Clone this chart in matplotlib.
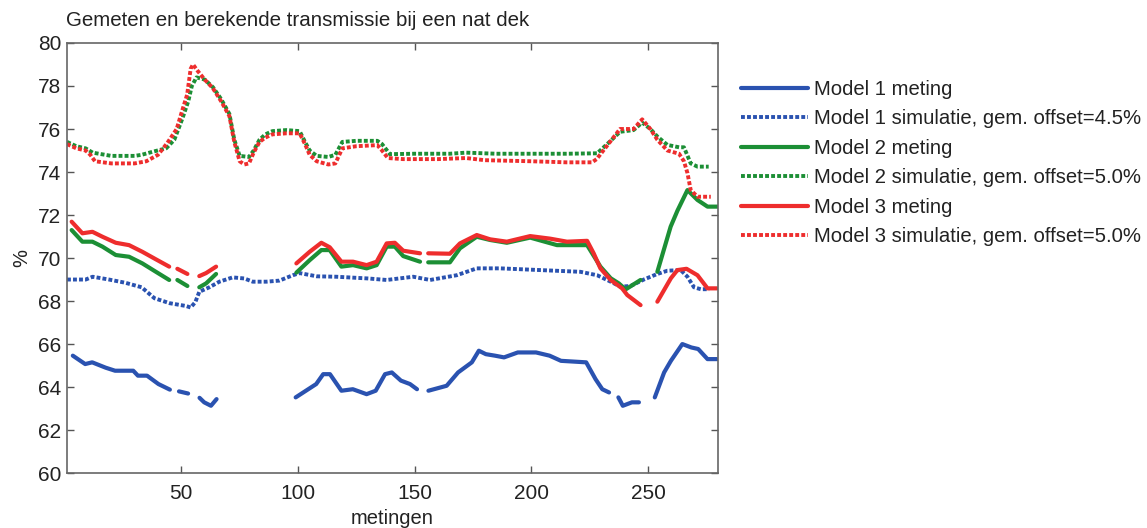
import numpy as np
import matplotlib.pyplot as plt

plt.rcParams['font.family'] = ['Liberation Sans', 'DejaVu Sans']

nan = np.nan

# Model 1
m1_x = [3.5, 8.8, 11.8, 17.6, 21.6, 29.4, 31.4, 35.3, 40.2, 45.1, nan, 49, 52.9, nan,
        57.8, 59.8, 62.7, 65.1, nan, 99, 107.8, 110.8, 113.7, 118.6, 123.5, 129.4, 133.3,
        137.3, 140.2, 144.1, 148, 151, nan, 155.9, 163.7, 168.6, 174.5, 177.5, 180.5,
        184.4, 188.3, 194.2, 202, 207.8, 212.7, 223.5, 227.5, 230.4, 233.3, nan, 237.3,
        239.2, 243.1, 246.1, nan, 252.9, 256.9, 259.8, 264.7, 268.6, 271.5, 275.5, 279.5]
m1_y = [65.46, 65.07, 65.15, 64.9, 64.76, 64.76, 64.53, 64.53, 64.14, 63.88, nan, 63.8,
        63.7, nan, 63.5, 63.29, 63.13, 63.44, nan, 63.52, 64.14, 64.6, 64.6, 63.83, 63.9,
        63.67, 63.83, 64.6, 64.68, 64.3, 64.14, 63.9, nan, 63.83, 64.06, 64.68, 65.15,
        65.69, 65.53, 65.46, 65.38, 65.61, 65.61, 65.46, 65.22, 65.15, 64.37, 63.9, 63.75,
        nan, 63.52, 63.13, 63.29, 63.29, nan, 63.52, 64.68, 65.22, 66.0, 65.84, 65.77,
        65.3, 65.3]
s1_x = [1, 9, 12, 19, 26, 33, 36, 38.5, 45, 52, 54, 56, 57.7, 62, 66.3, 72, 77, 80.6,
        86.4, 92, 97.8, 100.7, 108, 116.5, 130, 138, 149.4, 156.6, 168, 176.6, 186.6,
        203.8, 221, 228.2, 234, 238.2, 242.5, 248.2, 254, 258.3, 264, 266.9, 269.7,
        272.6, 276.2]
s1_y = [69.0, 69.0, 69.13, 69.0, 68.85, 68.64, 68.36, 68.13, 67.9, 67.77, 67.7, 67.95,
        68.43, 68.64, 68.9, 69.1, 69.05, 68.9, 68.9, 68.95, 69.2, 69.3, 69.15, 69.13,
        69.05, 68.98, 69.13, 68.98, 69.2, 69.52, 69.52, 69.44, 69.36, 69.2, 68.9, 68.67,
        68.7, 69.0, 69.26, 69.41, 69.44, 69.13, 68.64, 68.55, 68.55]

# Model 2
m2_x = [3, 7.6, 11.9, 16.2, 21.9, 27.6, 33.3, 39.1, 44.8, nan, 48.3, 52.6, nan, 57.7,
        60.6, 64.9, nan, 99.3, 105, 110, 113.6, 118.6, 123.6, 129.4, 133.7, 138, 141.5,
        145.1, 152.3, nan, 155.8, 165.1, 169.4, 176.6, 182.3, 189.5, 199.5, 211, 223.9,
        229.6, 234, 237.5, 240.4, 246.8, nan, 254, 259.7, 262.6, 266.9, 271.2, 275.5,
        279.8]
m2_y = [71.3, 70.76, 70.76, 70.53, 70.14, 70.06, 69.75, 69.36, 68.98, nan, 68.98, 68.7,
        nan, 68.64, 68.82, 69.26, nan, 69.32, 69.9, 70.37, 70.37, 69.6, 69.67, 69.52,
        69.67, 70.53, 70.53, 70.09, 69.83, nan, 69.8, 69.8, 70.45, 70.99, 70.84, 70.71,
        70.95, 70.6, 70.6, 69.6, 69.06, 68.82, 68.54, 68.98, nan, 69.36, 71.46, 72.2,
        73.16, 72.7, 72.39, 72.39]
s2_x = [1, 5, 9, 12, 20, 30, 33, 38, 43.5, 47, 50.5, 53, 54.5, 56.5, 60, 63.5, 67, 70.6,
        72.7, 75, 79, 81, 83.5, 86, 89, 95, 100.7, 103, 105, 108, 113, 116, 119, 125,
        134, 136, 139.4, 150, 165, 172, 185, 200, 215, 228.2, 233, 238, 243.8, 247.5,
        251, 254, 258.3, 263.3, 265.4, 268.3, 271.2, 276]
s2_y = [75.4, 75.2, 75.1, 74.9, 74.75, 74.75, 74.8, 74.95, 75.1, 75.5, 76.5, 77.3, 78.0,
        78.4, 78.3, 77.95, 77.4, 76.7, 75.5, 74.75, 74.7, 75.0, 75.5, 75.75, 75.9, 75.95,
        75.9, 75.4, 75.0, 74.75, 74.7, 74.8, 75.4, 75.45, 75.45, 75.3, 74.83, 74.85,
        74.85, 74.9, 74.85, 74.85, 74.85, 74.87, 75.35, 75.87, 75.95, 76.3, 76.0, 75.65,
        75.26, 75.15, 75.15, 74.4, 74.25, 74.25]

# Model 3
m3_x = [3, 7.6, 11.9, 16.2, 21.9, 27.6, 33.3, 39.1, 44.8, nan, 48.3, 52.6, nan, 57.7,
        60.6, 64.9, nan, 99.3, 105, 110, 113.6, 118.6, 123.6, 129.4, 133.7, 138, 141.5,
        145.1, 152.3, nan, 155.8, 165.1, 169.4, 176.6, 182.3, 189.5, 199.5, 208.1, 215.3,
        223.9, 226.7, 229.6, 234, 238.9, 241.1, 246.8, nan, 254, 259.8, 262.6, 266.5,
        271.2, 275.5, 279.5]
m3_y = [71.69, 71.15, 71.22, 70.99, 70.71, 70.6, 70.29, 69.94, 69.6, nan, 69.5, 69.26,
        nan, 69.16, 69.3, 69.6, nan, 69.75, 70.29, 70.71, 70.5, 69.83, 69.83, 69.67,
        69.83, 70.68, 70.71, 70.34, 70.22, nan, 70.22, 70.2, 70.68, 71.07, 70.87, 70.76,
        71.02, 70.9, 70.76, 70.8, 70.22, 69.52, 68.98, 68.59, 68.28, 67.81, nan, 67.97,
        69.06, 69.44, 69.5, 69.2, 68.59, 68.59]
s3_x = [1, 5, 9, 11, 13, 20, 30, 35, 40, 44, 48, 50.5, 52.5, 54, 55, 57, 60, 63.5, 67,
        70.6, 72.7, 75, 77, 79, 81, 83.5, 86, 89, 95, 100.7, 103, 105, 108, 113, 116,
        119, 125, 134, 136, 138.5, 145, 160, 172, 180, 200, 215, 226, 228, 233, 238,
        243.8, 247.5, 251, 254, 258.3, 263.3, 265.4, 266.9, 268.3, 271.2, 276.9]
s3_y = [75.3, 75.1, 75.0, 74.8, 74.5, 74.4, 74.4, 74.5, 74.8, 75.35, 76.0, 76.9, 77.6,
        78.8, 79.0, 78.7, 78.3, 77.9, 77.3, 76.6, 75.4, 74.5, 74.35, 74.4, 74.9, 75.4,
        75.6, 75.75, 75.8, 75.8, 75.3, 74.8, 74.5, 74.35, 74.4, 75.1, 75.2, 75.25, 75.0,
        74.65, 74.6, 74.6, 74.65, 74.55, 74.5, 74.45, 74.45, 74.6, 75.3, 76.0, 76.0,
        76.45, 76.0, 75.5, 75.0, 74.85, 74.5, 73.95, 73.16, 72.85, 72.85]

labels = ['Model 1 meting', 'Model 1 simulatie, gem. offset=4.5%',
          'Model 2 meting', 'Model 2 simulatie, gem. offset=5.0%',
          'Model 3 meting', 'Model 3 simulatie, gem. offset=5.0%']

blue = '#2a52b0'
green = '#1c8f35'
red = '#ee2d2d'

fig = plt.figure(figsize=(11.47, 5.28), dpi=100)
ax = fig.add_axes([0.0584, 0.104, 0.5676, 0.8146])

series = [(m1_x, m1_y, blue, False), (s1_x, s1_y, blue, True),
          (m2_x, m2_y, green, False), (s2_x, s2_y, green, True),
          (m3_x, m3_y, red, False), (s3_x, s3_y, red, True)]

for (x, y, c, sim), lab in zip(series, labels):
    if sim:
        ax.plot(x, y, color=c, lw=2.8, dashes=(1.0, 0.55), label=lab)
    else:
        ax.plot(x, y, color=c, lw=3.0, solid_capstyle='round', label=lab)

ax.set_xlim(1, 280)
ax.set_ylim(60, 80)
ax.set_xticks([50, 100, 150, 200, 250])
ax.set_yticks(np.arange(60, 81, 2))
ax.tick_params(direction='in', top=True, right=True, length=5, width=1,
               labelsize=15, colors='#555555', labelcolor='#222222', pad=4)
ax.tick_params(axis='x', pad=8)
for s in ax.spines.values():
    s.set_color('#666666')
    s.set_linewidth(1.2)

ax.set_xlabel('metingen', fontsize=14.5, color='#222222', labelpad=4)
ax.set_ylabel('%', fontsize=14.5, color='#222222', labelpad=5)
ax.set_title('Gemeten en berekende transmissie bij een nat dek', loc='left',
             fontsize=14.8, color='#222222', pad=12, x=-0.002)

fig.legend(loc='upper left', bbox_to_anchor=(0.646, 0.849), frameon=False,
           fontsize=14.6, handlelength=3.3, handletextpad=0.3, labelspacing=0.52,
           borderpad=0, borderaxespad=0, labelcolor='#222222')

fig.savefig('out.png', dpi=100)
